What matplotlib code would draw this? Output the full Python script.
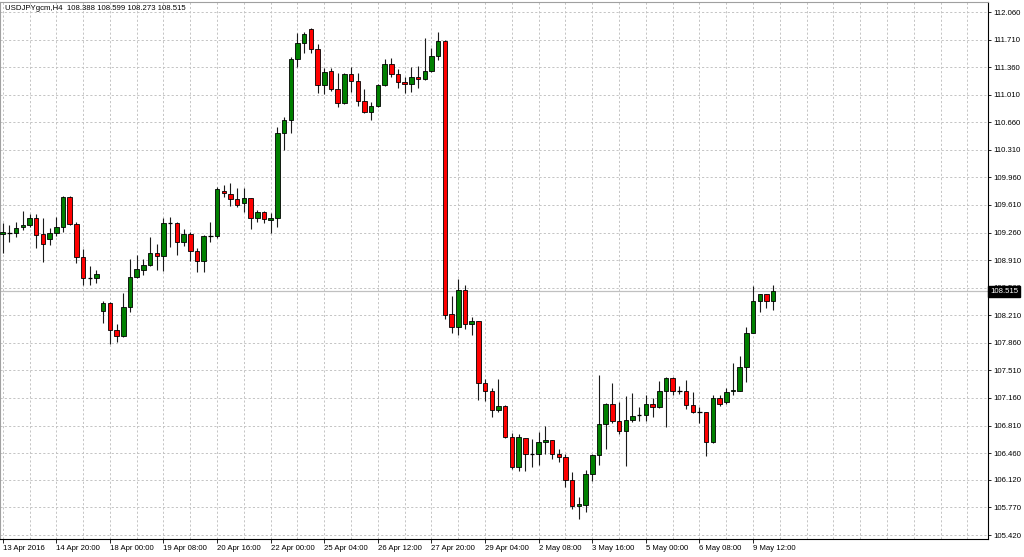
import matplotlib
matplotlib.use("Agg")
import matplotlib.pyplot as plt
import matplotlib.transforms as mtransforms

plt.rcParams['font.family'] = ['Liberation Sans', 'DejaVu Sans']

# ---- data (USDJPYgcm, H4) ----
opens = [109.24, 109.26, 109.25, 109.33, 109.36, 109.45, 109.24, 109.18, 109.26, 109.33,
         109.715, 109.365, 108.945, 108.68, 108.68, 108.26, 108.37, 108.02, 107.945, 108.31,
         108.70, 108.79, 108.85, 109.00, 108.965, 109.385, 109.385, 109.135, 109.24, 109.02,
         108.90, 109.22, 109.215, 109.785, 109.755, 109.69, 109.63, 109.70, 109.45, 109.515,
         109.425, 109.44, 110.52, 110.69, 111.465, 111.67, 111.845, 111.585, 111.135, 111.305,
         111.085, 110.90, 111.27, 111.19, 110.935, 110.795, 110.865, 111.135, 111.40, 111.275,
         111.175, 111.145, 111.24, 111.205, 111.305, 111.50, 111.69, 108.225, 108.065, 108.53,
         108.10, 108.135, 107.345, 107.255, 107.01, 107.06, 106.67, 106.28, 106.65, 106.455,
         106.455, 106.605, 106.625, 106.455, 106.405, 106.125, 105.79, 105.80, 106.19, 106.435,
         106.825, 107.09, 106.87, 106.745, 106.88, 106.945, 106.95, 107.09, 107.04, 107.255,
         107.42, 107.245, 107.245, 107.065, 106.98, 106.98, 106.605, 107.155, 107.115, 107.25,
         107.255, 107.55, 107.99, 108.39, 108.475, 108.388]
highs = [109.38, 109.36, 109.39, 109.54, 109.50, 109.50, 109.44, 109.32, 109.46, 109.72,
         109.72, 109.40, 109.05, 108.835, 108.78, 108.395, 108.38, 108.095, 108.49, 108.93,
         108.975, 108.93, 109.20, 109.115, 109.44, 109.46, 109.39, 109.305, 109.27, 109.06,
         109.23, 109.39, 109.835, 109.865, 109.89, 109.82, 109.82, 109.70, 109.545, 109.535,
         109.505, 110.605, 110.73, 111.485, 111.79, 111.80, 111.855, 111.655, 111.345, 111.355,
         111.28, 111.28, 111.36, 111.28, 111.08, 110.92, 111.14, 111.46, 111.47, 111.335,
         111.24, 111.365, 111.375, 111.725, 111.60, 111.81, 111.705, 108.455, 108.665, 108.595,
         108.19, 108.14, 107.395, 107.285, 107.395, 107.07, 106.72, 106.705, 106.655, 106.64,
         106.725, 106.805, 106.63, 106.51, 106.45, 106.225, 105.90, 106.245, 106.455, 107.45,
         107.095, 107.355, 107.115, 107.185, 107.225, 107.04, 107.20, 107.155, 107.38, 107.425,
         107.43, 107.31, 107.39, 107.24, 107.04, 106.985, 107.20, 107.20, 107.29, 107.61,
         107.695, 108.065, 108.58, 108.48, 108.48, 108.599]
lows = [109.00, 109.14, 109.21, 109.29, 109.33, 109.06, 108.89, 109.10, 109.22, 109.27,
        109.36, 108.88, 108.59, 108.59, 108.62, 108.11, 107.85, 107.87, 107.94, 108.25,
        108.68, 108.72, 108.83, 108.78, 108.77, 109.08, 108.98, 109.09, 108.90, 108.76,
        108.76, 109.135, 109.185, 109.715, 109.60, 109.58, 109.525, 109.31, 109.40, 109.385,
        109.25, 109.33, 110.31, 110.53, 111.365, 111.535, 111.535, 111.035, 111.02, 111.06,
        110.86, 110.89, 111.05, 110.865, 110.775, 110.69, 110.86, 111.12, 111.23, 111.10,
        111.035, 111.05, 111.09, 111.20, 111.30, 111.45, 108.16, 107.98, 107.96, 108.03,
        107.96, 107.135, 107.125, 106.925, 106.985, 106.65, 106.255, 106.235, 106.235, 106.28,
        106.31, 106.455, 106.38, 106.35, 106.035, 105.745, 105.62, 105.715, 106.11, 106.315,
        106.51, 106.84, 106.70, 106.295, 106.86, 106.87, 106.87, 106.92, 107.035, 106.795,
        107.20, 107.205, 107.015, 106.965, 106.845, 106.425, 106.585, 107.06, 107.09, 107.20,
        107.25, 107.365, 107.985, 108.255, 108.30, 108.273]
closes = [109.27, 109.26, 109.32, 109.36, 109.45, 109.23, 109.11, 109.25, 109.33, 109.715,
          109.365, 108.945, 108.68, 108.68, 108.74, 108.37, 108.02, 107.945, 108.31, 108.70,
          108.80, 108.85, 109.00, 108.965, 109.385, 109.385, 109.135, 109.24, 109.02, 108.90,
          109.22, 109.22, 109.81, 109.76, 109.68, 109.61, 109.70, 109.45, 109.515, 109.43,
          109.445, 110.52, 110.69, 111.465, 111.67, 111.78, 111.585, 111.135, 111.295, 111.085,
          110.90, 111.27, 111.19, 110.935, 110.795, 110.87, 111.135, 111.40, 111.275, 111.17,
          111.145, 111.24, 111.205, 111.305, 111.50, 111.69, 108.215, 108.065, 108.53, 108.10,
          108.135, 107.345, 107.255, 107.01, 107.06, 106.67, 106.28, 106.66, 106.455, 106.455,
          106.605, 106.625, 106.455, 106.405, 106.125, 105.79, 105.81, 106.19, 106.435, 106.825,
          107.09, 106.87, 106.745, 106.88, 106.93, 106.945, 107.09, 107.04, 107.255, 107.42,
          107.245, 107.245, 107.07, 106.98, 106.98, 106.605, 107.155, 107.085, 107.24, 107.26,
          107.55, 107.99, 108.39, 108.48, 108.385, 108.515]

date_labels = ["13 Apr 2016", "14 Apr 20:00", "18 Apr 00:00", "19 Apr 08:00", "20 Apr 16:00",
               "22 Apr 00:00", "25 Apr 04:00", "26 Apr 12:00", "27 Apr 20:00", "29 Apr 04:00",
               "2 May 08:00", "3 May 16:00", "5 May 00:00", "6 May 08:00", "9 May 12:00"]
price_ticks = [112.060, 111.710, 111.360, 111.010, 110.660, 110.310, 109.960, 109.610,
               109.260, 108.910, 108.560, 108.210, 107.860, 107.510, 107.160, 106.810,
               106.460, 106.120, 105.770, 105.420]
title_text = "USDJPYgcm,H4  108.388 108.599 108.273 108.515"
last_price = 108.515

# ---- figure ----
W, H = 1024, 557
fig = plt.figure(figsize=(W / 100, H / 100), dpi=100)
ax = fig.add_axes([0, 18 / H, 988 / W, 537 / H])
ax.set_facecolor("white")

n = len(opens)
xs = list(range(n))
ax.set_xlim(-0.403, 147.06)
ax.set_ylim(105.370, 112.187)

# grid
grid_kw = dict(color="#c4c4c4", lw=0.7, ls=(0, (2.2, 2.2)), zorder=0)
for v in price_ticks:
    ax.axhline(v, **grid_kw)
for g in range(0, 148, 4):
    ax.axvline(g, **grid_kw)

# price line
ax.axhline(last_price, color="#c0c0c0", lw=0.9, zorder=1)

# candles
green, red = "#008000", "#ff0000"
ax.vlines(xs, lows, highs, color="#1a1a1a", lw=0.8, zorder=2)
bw = 0.68
for i in xs:
    o, c = opens[i], closes[i]
    if abs(c - o) < 0.004:
        ax.hlines((o + c) / 2, i - bw / 2, i + bw / 2, color="black", lw=0.9, zorder=3)
    else:
        ax.bar(i, abs(c - o), bottom=min(o, c), width=bw,
               color=green if c > o else red, edgecolor="black", lw=0.6, zorder=3)

# axes / spines
for s in ("top", "left"):
    ax.spines[s].set_color("#a0a0a0")
    ax.spines[s].set_linewidth(0.8)
for s in ("right", "bottom"):
    ax.spines[s].set_color("black")
    ax.spines[s].set_linewidth(0.8)

ax.yaxis.tick_right()
ax.set_yticks(price_ticks)
ax.set_yticklabels([f"{v:.3f}" for v in price_ticks])
ax.tick_params(axis="y", direction="out", length=2.5, width=0.6, pad=1.5,
               labelsize=5.6, colors="black")

ax.set_xticks(list(range(0, 8 * len(date_labels), 8)))
ax.set_xticklabels(date_labels)
ax.tick_params(axis="x", direction="out", length=3, width=0.6, pad=1.0,
               labelsize=5.6, colors="black")
for lab in ax.get_xticklabels():
    lab.set_ha("left")

# last price box
trans = mtransforms.blended_transform_factory(ax.transAxes, ax.transData)
ax.text(1.0 + 2 / 988, last_price, f"{last_price:.3f}", transform=trans,
        ha="left", va="center", fontsize=5.6, color="white", clip_on=False, zorder=10,
        bbox=dict(boxstyle="square,pad=0.25", fc="black", ec="black"))

fig.text(5 / W, 1 - 9 / H, title_text, fontsize=5.6, va="center", ha="left", color="black")

fig.savefig("out.png", dpi=100, facecolor="white")
